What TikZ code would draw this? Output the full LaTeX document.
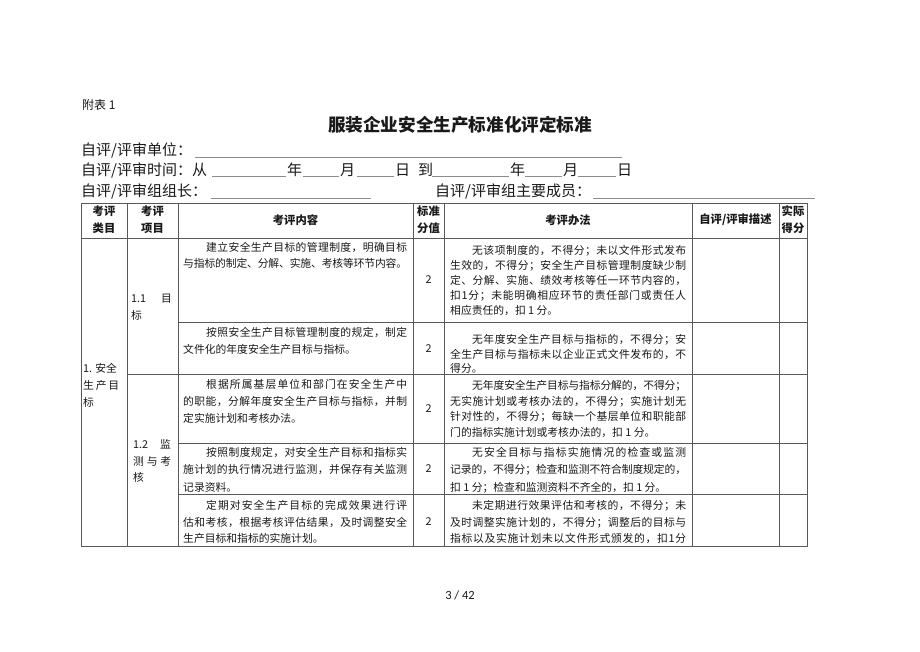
\documentclass[tikz,border=0pt]{standalone}
\usepackage{fontspec}
\newfontfamily\cjk{Noto Sans CJK SC}
\newfontfamily\pgfont{Carlito}
\newcommand\jline[2]{\hbox to #1{\jlfirst#2\relax}}
\def\jlfirst#1{#1\jlnext}
\def\jlnext#1{\ifx\relax#1\else\hskip0pt plus1fil minus1.5pt\relax#1\expandafter\jlnext\fi}
\tikzset{
  body/.style={font=\cjk\fontsize{10.8}{13}\selectfont, inner sep=0pt, anchor=base west, text=black!90},
  num/.style={font=\cjk\fontsize{10.8}{13}\selectfont, inner sep=0pt, anchor=center, text=black!90},
  hd/.style={font=\cjk\bfseries\fontsize{11.3}{13}\selectfont, inner sep=0pt, anchor=center, text=black!90},
  big/.style={font=\cjk\fontsize{15}{18}\selectfont, inner sep=0pt, anchor=base west, text=black!90},
  gridline/.style={draw=black!65, line width=0.9pt},
  uline/.style={draw=black!45, line width=0.8pt},
}
\begin{document}
\begin{tikzpicture}[x=1pt,y=-1pt]
\useasboundingbox[fill=white] (0,0) rectangle (920,651);
% heading
\node[font=\cjk\fontsize{12}{14}\selectfont, inner sep=0pt, anchor=base west, text=black!90] (fb) at (82,109.6) {附表 1};
\node[font=\cjk\bfseries\fontsize{17.6}{20}\selectfont, inner sep=0pt, anchor=base, text=black!90] (title) at (460,131.7) {服装企业安全生产标准化评定标准};
\node[big] (l1) at (81,155.5) {自评/评审单位：};
\draw[uline] (195,157) -- (622,157);
\node[big] (l2) at (81,175) {自评/评审时间：从};
\node[big] (y1) at (287,175) {年};
\node[big] (m1) at (340,175) {月};
\node[big] (d1) at (395,175) {日};
\node[big] (to) at (418,175) {到};
\node[big] (y2) at (510,175) {年};
\node[big] (m2) at (563,175) {月};
\node[big] (d2) at (617,175) {日};
\draw[uline] (212,176) -- (286,176) (303,176) -- (339,176) (357,176) -- (394,176)
             (432,176) -- (509,176) (525,176) -- (562,176) (578,176) -- (616,176);
\node[big] (l3) at (81,196.5) {自评/评审组组长：};
\draw[uline] (211,198) -- (371,198);
\node[big] (l4) at (435,196.5) {自评/评审组主要成员：};
\draw[uline] (593,198) -- (815,198);
% table grid
\draw[gridline] (81,203) rectangle (807,546);
\draw[gridline] (81,238) -- (807,238);
\draw[gridline] (178,322) -- (807,322);
\draw[gridline] (127,374) -- (807,374);
\draw[gridline] (178,443) -- (807,443);
\draw[gridline] (178,494) -- (807,494);
\foreach \x in {127,178,413,444,692,779} \draw[gridline] (\x,203) -- (\x,546);
% header
\node[hd] (h1a) at (104,211.5) {考评};
\node[hd] (h1b) at (104,228.5) {类目};
\node[hd] (h2a) at (152.5,211.5) {考评};
\node[hd] (h2b) at (152.5,228.5) {项目};
\node[hd] (h3) at (295.5,220) {考评内容};
\node[hd] (h4a) at (428.5,211.5) {标准};
\node[hd] (h4b) at (428.5,228.5) {分值};
\node[hd] (h5) at (568,220) {考评办法};
\node[hd] (h6) at (735.5,220) {自评/评审描述};
\node[hd] (h7a) at (793,211.5) {实际};
\node[hd] (h7b) at (793,228.5) {得分};
% column 1 and 2
\node[body] (k1a) at (83,372) {1. 安全};
\node[body] (k1b) at (83,389) {\jline{36pt}{生产目}};
\node[body] (k1c) at (83,406) {标};
\node[body] (p1a) at (131,302) {1.1};
\node[body] (p1b) at (161,302) {目};
\node[body] (p1c) at (131,319) {标};
\node[body] (p2a) at (133,448) {1.2};
\node[body] (p2b) at (160,448) {监};
\node[body] (p2c) at (133,465) {\jline{38pt}{测与考}};
\node[body] (p2d) at (133,481) {核};
% content
\node[body] (c1a) at (206,251) {\jline{201pt}{建立安全生产目标的管理制度，明确目标}};
\node[body] (c1b) at (183,267) {\jline{224pt}{与指标的制定、分解、实施、考核等环节内容。}};
\node[body] (c2a) at (206,336) {\jline{201pt}{按照安全生产目标管理制度的规定，制定}};
\node[body] (c2b) at (183,353) {文件化的年度安全生产目标与指标。};
\node[body] (c3a) at (206,388) {\jline{201pt}{根据所属基层单位和部门在安全生产中}};
\node[body] (c3b) at (183,405) {\jline{224pt}{的职能，分解年度安全生产目标与指标，并制}};
\node[body] (c3c) at (183,422) {定实施计划和考核办法。};
\node[body] (c4a) at (206,456) {\jline{201pt}{按照制度规定，对安全生产目标和指标实}};
\node[body] (c4b) at (183,473) {\jline{224pt}{施计划的执行情况进行监测，并保存有关监测}};
\node[body] (c4c) at (183,491) {记录资料。};
\node[body] (c5a) at (206,509) {\jline{201pt}{定期对安全生产目标的完成效果进行评}};
\node[body] (c5b) at (183,526) {\jline{224pt}{估和考核，根据考核评估结果，及时调整安全}};
\node[body] (c5c) at (183,542) {生产目标和指标的实施计划。};
% scores
\node[num] (s1) at (428.5,280) {2};
\node[num] (s2) at (428.5,349) {2};
\node[num] (s3) at (428.5,409) {2};
\node[num] (s4) at (428.5,469) {2};
\node[num] (s5) at (428.5,522) {2};
% methods
\node[body] (m1a) at (472,254) {\jline{214pt}{无该项制度的，不得分；未以文件形式发布}};
\node[body] (m1b) at (450,269) {\jline{236pt}{生效的，不得分；安全生产目标管理制度缺少制}};
\node[body] (m1c) at (450,284) {\jline{236pt}{定、分解、实施、绩效考核等任一环节内容的，}};
\node[body] (m1d) at (450,299) {\jline{236pt}{扣 1 分；未能明确相应环节的责任部门或责任人}};
\node[body] (m1e) at (450,314) {相应责任的，扣 1 分。};
\node[body] (m2a) at (472,343) {\jline{214pt}{无年度安全生产目标与指标的，不得分；安}};
\node[body] (m2b) at (450,358) {\jline{236pt}{全生产目标与指标未以企业正式文件发布的，不}};
\node[body] (m2c) at (450,372) {得分。};
\node[body] (m3a) at (472,389) {\jline{214pt}{无年度安全生产目标与指标分解的，不得分；}};
\node[body] (m3b) at (450,405) {\jline{236pt}{无实施计划或考核办法的，不得分；实施计划无}};
\node[body] (m3c) at (450,420) {\jline{236pt}{针对性的，不得分；每缺一个基层单位和职能部}};
\node[body] (m3d) at (450,436) {门的指标实施计划或考核办法的，扣 1 分。};
\node[body] (m4a) at (472,456) {\jline{214pt}{无安全目标与指标实施情况的检查或监测}};
\node[body] (m4b) at (450,473) {\jline{236pt}{记录的，不得分；检查和监测不符合制度规定的，}};
\node[body] (m4c) at (450,491) {扣 1 分；检查和监测资料不齐全的，扣 1 分。};
\node[body] (m5a) at (472,509) {\jline{214pt}{未定期进行效果评估和考核的，不得分；未}};
\node[body] (m5b) at (450,526) {\jline{236pt}{及时调整实施计划的，不得分；调整后的目标与}};
\node[body] (m5c) at (450,542) {\jline{236pt}{指标以及实施计划未以文件形式颁发的，扣 1 分}};
% page number
\node[font=\pgfont\fontsize{12.5}{14}\selectfont, inner sep=0pt, anchor=center, text=black!90] (pg) at (460,595) {3 / 42};
\end{tikzpicture}
\end{document}
